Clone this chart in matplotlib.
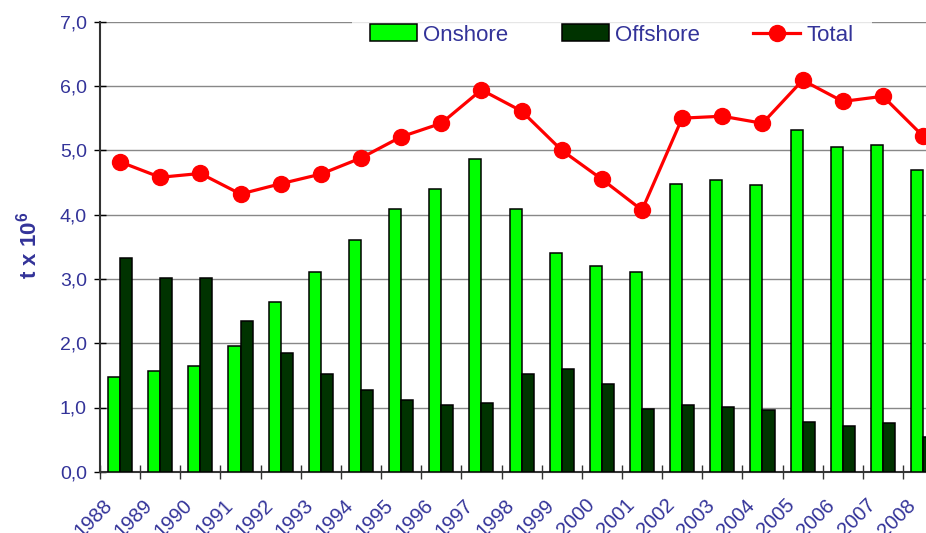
# Onshore / offshore / total chart, 1988-2008 (t x 10^6)

import numpy as np
import matplotlib.pyplot as plt
from matplotlib.ticker import FixedLocator
import matplotlib.transforms as mtransforms

plt.rcParams['font.family'] = ['Liberation Sans', 'DejaVu Sans']
plt.rcParams['mathtext.fontset'] = 'custom'
plt.rcParams['mathtext.rm'] = 'Liberation Sans'
plt.rcParams['mathtext.bf'] = 'Liberation Sans:bold'

years = ['1988', '1989', '1990', '1991', '1992', '1993', '1994', '1995', '1996', '1997',
         '1998', '1999', '2000', '2001', '2002', '2003', '2004', '2005', '2006', '2007', '2008']
onshore = [1.47, 1.57, 1.65, 1.96, 2.64, 3.11, 3.61, 4.09, 4.40, 4.86,
           4.09, 3.40, 3.20, 3.11, 4.47, 4.54, 4.46, 5.32, 5.05, 5.08, 4.69]
offshore = [3.32, 3.01, 3.01, 2.34, 1.84, 1.52, 1.27, 1.12, 1.04, 1.07,
            1.52, 1.60, 1.37, 0.98, 1.04, 1.01, 0.96, 0.78, 0.71, 0.76, 0.54]
total = [4.82, 4.58, 4.64, 4.32, 4.48, 4.63, 4.88, 5.21, 5.42, 5.94,
         5.61, 5.00, 4.55, 4.07, 5.50, 5.53, 5.42, 6.09, 5.76, 5.84, 5.22]

text_col = '#333399'
W, H = 926, 533

fig = plt.figure(figsize=(W / 100, H / 100), dpi=100)
# plot area runs past the right edge, as in the original crop
ax = fig.add_axes([100 / W, 1 - 471.8 / H, 21 * 40.15 / W, 450.1 / H])

x = np.arange(len(years))
bw = 0.3
b1 = ax.bar(x - bw / 2, onshore, bw, color='#00ff00', edgecolor='black', linewidth=1.1,
            label='Onshore', zorder=3)
b2 = ax.bar(x + bw / 2, offshore, bw, color='#003300', edgecolor='black', linewidth=1.1,
            label='Offshore', zorder=3)
l1, = ax.plot(x, total, color='#ff0000', linewidth=2.3, marker='o', markersize=11.5,
              label='Total', zorder=4, clip_on=False)

ax.set_xlim(-0.5, len(years) - 0.5)
ax.set_ylim(0, 7)
ax.set_yticks(np.arange(0, 7.1, 1))
ax.yaxis.set_major_formatter(plt.FuncFormatter(lambda v, p: ('%.1f' % v).replace('.', ',')))
ax.grid(axis='y', color='#888888', linewidth=1.0, zorder=0)
ax.set_axisbelow(True)

ax.set_xticks(x)
ax.set_xticklabels(years, rotation=45, ha='right')
ax.xaxis.set_minor_locator(FixedLocator(np.arange(-0.5, len(years), 1)))
ax.tick_params(axis='x', which='major', length=0, pad=17, labelsize=14.5, labelcolor=text_col)
ax.tick_params(axis='x', which='minor', direction='inout', length=10, width=1, color='#333333')
ax.tick_params(axis='y', direction='inout', length=9, width=1, labelsize=14,
               labelcolor=text_col, pad=5)
offset = mtransforms.ScaledTranslation(-4 / 100, 0, fig.dpi_scale_trans)
for lbl in ax.get_xticklabels():
    lbl.set_transform(lbl.get_transform() + offset)

for s in ['top', 'right']:
    ax.spines[s].set_visible(False)
ax.spines['left'].set_color('#333333')
ax.spines['left'].set_linewidth(1.5)
ax.spines['bottom'].set_color('#333333')
ax.spines['bottom'].set_linewidth(1.5)

fig.text(29 / W, 1 - 245 / H, r't x 10$^{\mathbf{6}}$', rotation=90, fontsize=16,
         fontweight='bold', color=text_col, ha='center', va='center')

leg = fig.legend([b1, b2, l1], ['Onshore', 'Offshore', 'Total'],
                 loc='center', bbox_to_anchor=(612 / W, 1 - 35 / H), ncol=3,
                 fontsize=16, frameon=True, facecolor='white', edgecolor='white',
                 fancybox=False, handlelength=2.1, handleheight=0.8, handletextpad=0.3,
                 columnspacing=2.4, borderpad=0.8, borderaxespad=0)
leg.get_frame().set_linewidth(0)
for t in leg.get_texts():
    t.set_color(text_col)
leg.set_zorder(10)

fig.savefig('out.png', dpi=100)
